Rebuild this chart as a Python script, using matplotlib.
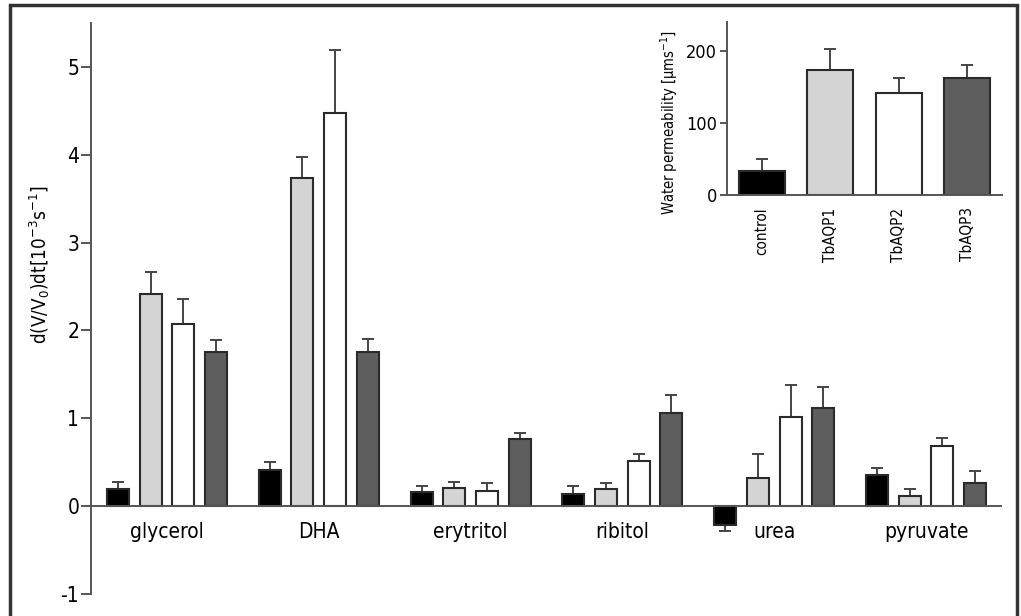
import matplotlib.pyplot as plt
import numpy as np
from matplotlib.patches import Rectangle

SUBSTRATES = ["glycerol", "DHA", "erytritol", "ribitol", "urea", "pyruvate"]
SERIES = ["control", "TbAQP1", "TbAQP2", "TbAQP3"]

# d(V/V0)/dt per substrate, one list per series
control_vals = [0.19, 0.41, 0.16, 0.14, -0.22, 0.35]
aqp1_vals = [2.41, 3.73, 0.21, 0.20, 0.32, 0.12]
aqp2_vals = [2.07, 4.48, 0.17, 0.51, 1.01, 0.68]
aqp3_vals = [1.76, 1.75, 0.77, 1.06, 1.12, 0.26]

control_err = [0.08, 0.09, 0.07, 0.09, 0.06, 0.09]
aqp1_err = [0.25, 0.25, 0.06, 0.06, 0.27, 0.07]
aqp2_err = [0.29, 0.71, 0.09, 0.08, 0.37, 0.10]
aqp3_err = [0.13, 0.15, 0.06, 0.21, 0.24, 0.14]

# inset: water permeability
water_vals = [33, 173, 141, 163]
water_err = [17, 29, 21, 17]

FILLS = ["#000000", "#d4d4d4", "#ffffff", "#5e5e5e"]
EDGE = "#2a2a2a"
LINE = "#555555"

plt.rcParams["font.family"] = ["DejaVu Sans"]
plt.rcParams["font.stretch"] = "condensed"
plt.rcParams["mathtext.default"] = "regular"

fig = plt.figure(figsize=(10.21, 6.16), dpi=100)

# outer frame
fig.patches.append(Rectangle((10 / 1021, -0.05), 1007 / 1021, 1.05 - 5 / 616,
                             transform=fig.transFigure, fill=False,
                             edgecolor="#333333", linewidth=2.5))

ax = fig.add_axes([91 / 1021, 1 - 594 / 616, 911 / 1021, 571 / 616])
x = np.arange(len(SUBSTRATES))
step = 0.215
width = 0.145
values = [control_vals, aqp1_vals, aqp2_vals, aqp3_vals]
errors = [control_err, aqp1_err, aqp2_err, aqp3_err]
for i, (vals, errs) in enumerate(zip(values, errors)):
    pos = x + (i - 1.5) * step
    vals = np.array(vals)
    errs = np.array(errs)
    lower = np.where(vals < 0, errs, 0)
    upper = np.where(vals >= 0, errs, 0)
    ax.bar(pos, vals, width, color=FILLS[i], edgecolor=EDGE, linewidth=1.5, zorder=2)
    ax.errorbar(pos, vals, yerr=[lower, upper], fmt="none", ecolor="#444444",
                elinewidth=1.4, capsize=4.5, capthick=1.4, zorder=1)

ax.axhline(0, color=LINE, linewidth=1.4, zorder=3)
ax.set_xlim(-0.5, 5.5)
ax.set_ylim(-1, 5.5)
for side in ["top", "right", "bottom"]:
    ax.spines[side].set_visible(False)
ax.spines["left"].set_color(LINE)
ax.spines["left"].set_linewidth(1.4)
ax.spines["left"].set_bounds(-1, 5.5)
ax.set_yticks([-1, 0, 1, 2, 3, 4, 5])
ax.set_yticklabels(["-1", "0", "1", "2", "3", "4", "5"])
ax.tick_params(axis="y", length=7, width=1.4, color=LINE, labelsize=15, pad=1.5)
ax.set_xticks([])
for xi, name in zip(x, SUBSTRATES):
    ax.text(xi, -0.18, name, ha="center", va="top", fontsize=15)
ax.set_ylabel(r"d(V/V$_0$)dt[10$^{-3}$s$^{-1}$]", fontsize=13.5)
ax.yaxis.set_label_coords(-0.043, 0.576)
ax.patch.set_alpha(0)

# inset
ins = fig.add_axes([727 / 1021, 1 - 195 / 616, 275 / 1021, 173 / 616])
xi = np.arange(len(SERIES))
ins.bar(xi, water_vals, 0.67, color=FILLS, edgecolor=EDGE, linewidth=1.5, zorder=2)
ins.errorbar(xi, water_vals, yerr=[np.zeros(4), water_err], fmt="none",
             ecolor="#444444", elinewidth=1.4, capsize=4.5, capthick=1.4, zorder=1)
ins.set_xlim(-0.51, 3.51)
ins.set_ylim(0, 240)
for side in ["top", "right"]:
    ins.spines[side].set_visible(False)
for side in ["left", "bottom"]:
    ins.spines[side].set_color(LINE)
    ins.spines[side].set_linewidth(1.4)
ins.set_yticks([0, 100, 200])
ins.tick_params(axis="y", length=5, width=1.4, color=LINE, labelsize=13, pad=2)
ins.set_xticks(xi)
ins.set_xticklabels(SERIES, rotation=90, fontsize=11)
ins.tick_params(axis="x", length=0, pad=9)
ins.set_ylabel(r"Water permeability [$\mu$ms$^{-1}$]", fontsize=10.5)
ins.yaxis.set_label_coords(-0.17, 0.42)
ins.patch.set_alpha(0)

fig.savefig("out.png", dpi=100)
